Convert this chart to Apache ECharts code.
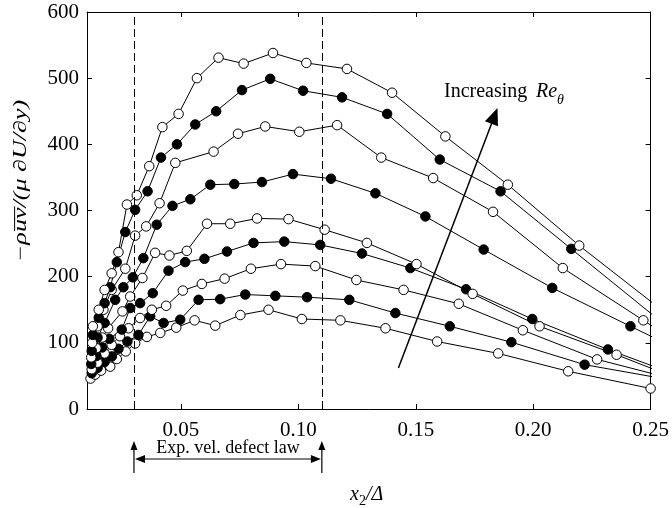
<!DOCTYPE html>
<html>
<head>
<meta charset="utf-8">
<script src="https://cdn.jsdelivr.net/npm/echarts@6/dist/echarts.min.js"></script>
<style>
  html, body { margin: 0; padding: 0; background: #fff; }
  #chart { width: 672px; height: 508px; }
</style>
</head>
<body>
<div id="chart"></div>
<script>
// Tick positions on the x2/Delta axis and the y axis
const xTicks = [0.05, 0.10, 0.15, 0.20, 0.25];
const yMin = 0, yMax = 600, yStep = 100;
// Bounds of the exponential velocity-defect region
const defectBounds = [0.03, 0.11];

// Profiles of -rho*uv / (mu dU/dy) against x2/Delta, lowest Re_theta first.
const profile1 = [[0.0115,46],[0.0135,52],[0.016,58],[0.0199,64],[0.0227,75.5],[0.0265,87],[0.0305,99],[0.0355,109],[0.0412,115],[0.048,123],[0.0558,134],[0.0646,126],[0.0753,142],[0.0873,150],[0.1015,136],[0.1179,134],[0.1371,122],[0.1591,102],[0.1851,84],[0.2149,57],[0.25,31]];
const profile2 = [[0.012,54],[0.0145,62],[0.0175,71],[0.0206,79.5],[0.0234,91],[0.0272,102],[0.0319,112],[0.0369,140],[0.0426,130],[0.0497,135],[0.0575,165],[0.0667,166],[0.0774,173],[0.0902,171],[0.1037,169],[0.1217,165],[0.1413,145],[0.1645,125],[0.1907,101],[0.2219,67],[0.26,43]];
const profile3 = [[0.012,60],[0.0145,70],[0.0175,84],[0.0205,97],[0.024,110],[0.0277,122],[0.0326,137.5],[0.0376,150],[0.0437,156],[0.0508,179],[0.0589,189],[0.0686,197],[0.0798,212],[0.0926,219],[0.1072,216],[0.1247,195],[0.1448,180],[0.1683,159],[0.1956,119],[0.2272,75],[0.26,45]];
const profile4 = [[0.0118,68],[0.014,80],[0.0165,93],[0.0195,106],[0.0248,120],[0.0284,152.6],[0.0326,160],[0.038,175],[0.0447,209],[0.0518,222],[0.06,227],[0.0696,238],[0.0809,251],[0.094,253],[0.1093,248],[0.1271,235],[0.1477,213],[0.1714,181],[0.1996,136],[0.2318,90],[0.26,53]];
const profile5 = [[0.0118,78],[0.014,92],[0.0165,108],[0.019,122],[0.0251,147.5],[0.0284,170],[0.0336,198],[0.039,236],[0.0451,232],[0.0525,239],[0.0611,280],[0.071,280],[0.0824,288],[0.0958,287],[0.1112,271],[0.1292,251],[0.1503,219],[0.1742,174],[0.2027,125],[0.2355,82],[0.26,48]];
const profile6 = [[0.012,88],[0.0145,108],[0.0175,130],[0.022,165],[0.0255,184],[0.0295,199],[0.034,228],[0.0397,278.5],[0.0464,307],[0.054,317],[0.0625,339],[0.0727,340],[0.0845,343],[0.0977,355],[0.1139,348],[0.1328,326],[0.1541,291],[0.1789,241],[0.2081,183],[0.2414,125],[0.26,93]];
const profile7 = [[0.0122,100],[0.0145,125],[0.017,150],[0.0205,180],[0.0263,212],[0.0305,262],[0.0352,276],[0.0409,311],[0.0476,372],[0.0639,389],[0.0743,416],[0.0859,427],[0.1004,419],[0.1165,429],[0.1353,380],[0.1574,349],[0.1829,298],[0.2126,213],[0.2469,134],[0.26,104]];
const profile8 = [[0.0125,112],[0.015,138],[0.0175,160],[0.0199,184],[0.0227,222],[0.0263,267.5],[0.0305,301],[0.0358,329],[0.0415,380],[0.0483,400],[0.0561,430],[0.065,450],[0.076,482],[0.088,499],[0.102,481],[0.1186,471],[0.1378,446],[0.1602,377],[0.1861,329],[0.2162,242],[0.26,116]];
const profile9 = [[0.0125,125],[0.015,150],[0.0175,180],[0.0205,205],[0.0234,237],[0.027,309],[0.0312,323],[0.0365,367],[0.0421,426],[0.049,446],[0.0568,500],[0.066,531],[0.0767,522],[0.0892,538],[0.1034,523],[0.1207,514],[0.1399,478],[0.1626,412],[0.1892,339],[0.2196,247],[0.26,135]];

// Open and filled markers alternate from one profile to the next
const profiles = [profile1, profile2, profile3, profile4, profile5, profile6, profile7, profile8, profile9];
const filledMarker = [false, true, false, true, false, true, false, true, false];

// Arrow showing the Re_theta trend, given in data units
const trendArrow = { from: [0.1426, 62], to: [0.1848, 455] };

const SERIF = '"Liberation Serif", "DejaVu Serif", serif';
const chart = echarts.init(document.getElementById('chart'), null, { renderer: 'canvas' });

const frameAxis = (extra) => Object.assign({
  type: 'value',
  axisLine: { show: true, onZero: false, lineStyle: { color: '#000', width: 1 } },
  splitLine: { show: false },
}, extra);

const series = profiles.map((data, i) => ({
  type: 'line',
  data: data,
  clip: true,
  symbol: 'circle',
  symbolSize: 9.5,
  showAllSymbol: true,
  lineStyle: { color: '#000', width: 1 },
  itemStyle: { color: filledMarker[i] ? '#000' : '#fff', borderColor: '#000', borderWidth: 1 },
  emphasis: { disabled: true },
  z: 3,
}));

series.push({
  type: 'line',
  data: [],
  markLine: {
    silent: true,
    symbol: ['none', 'none'],
    label: { show: false },
    lineStyle: { color: '#000', width: 1, type: [8, 4] },
    data: defectBounds.map(v => ({ xAxis: v })),
  },
  z: 2,
});

chart.setOption({
  animation: false,
  backgroundColor: '#fff',
  grid: { left: 87, right: 21, top: 12, bottom: 99 },
  xAxis: [
    frameAxis({
      min: 0.01, max: 0.25, position: 'bottom',
      axisTick: { show: true, inside: true, length: 5, customValues: xTicks, lineStyle: { color: '#000' } },
      axisLabel: { show: true, customValues: xTicks, formatter: v => v.toFixed(2),
        fontFamily: SERIF, fontSize: 21, color: '#000', margin: 11 },
    }),
    frameAxis({
      min: 0.01, max: 0.25, position: 'top',
      axisTick: { show: true, inside: true, length: 5, customValues: xTicks, lineStyle: { color: '#000' } },
      axisLabel: { show: false },
    }),
  ],
  yAxis: [
    frameAxis({
      min: yMin, max: yMax, interval: yStep, position: 'left',
      axisTick: { show: true, inside: true, length: 5, lineStyle: { color: '#000' } },
      axisLabel: { show: true, fontFamily: SERIF, fontSize: 21, color: '#000', margin: 8 },
    }),
    frameAxis({
      min: yMin, max: yMax, interval: yStep, position: 'right',
      axisTick: { show: true, inside: true, length: 5, lineStyle: { color: '#000' } },
      axisLabel: { show: false },
    }),
  ],
  series: series,
});

// Annotations placed through the axis scales
const px = (x, y) => chart.convertToPixel({ gridIndex: 0 }, [x, y]);
const bL = px(defectBounds[0], 0)[0];
const bR = px(defectBounds[1], 0)[0];
const lawY = 459;
const black = { fill: '#000' };

function arrowHead(tip, dirX, dirY, len, half) {
  const bx = tip[0] - dirX * len, by = tip[1] - dirY * len;
  const nx = -dirY, ny = dirX;
  return { type: 'polygon', shape: { points: [tip, [bx + nx * half, by + ny * half], [bx - nx * half, by - ny * half]] }, style: black, silent: true };
}

const a0 = px(trendArrow.from[0], trendArrow.from[1]);
const a1 = px(trendArrow.to[0], trendArrow.to[1]);
const dx = a1[0] - a0[0], dy = a1[1] - a0[1], dl = Math.hypot(dx, dy);
const ux = dx / dl, uy = dy / dl;

chart.setOption({
  graphic: [
    // region bracket under the axis
    { type: 'line', shape: { x1: bL, y1: 446, x2: bL, y2: 473 }, style: { stroke: '#000', lineWidth: 1.2 }, silent: true },
    { type: 'line', shape: { x1: bR, y1: 446, x2: bR, y2: 473 }, style: { stroke: '#000', lineWidth: 1.2 }, silent: true },
    arrowHead([bL, 441], 0, -1, 9, 3.5),
    arrowHead([bR, 441], 0, -1, 9, 3.5),
    { type: 'line', shape: { x1: bL + 6, y1: lawY, x2: bR - 6, y2: lawY }, style: { stroke: '#000', lineWidth: 1.2 }, silent: true },
    arrowHead([bL + 1, lawY], -1, 0, 10, 4),
    arrowHead([bR - 1, lawY], 1, 0, 10, 4),
    { type: 'text', x: (bL + bR) / 2, y: 457, silent: true,
      style: { text: 'Exp. vel. defect law', font: '18px ' + SERIF, fill: '#000', align: 'center', verticalAlign: 'bottom' } },

    // trend arrow
    { type: 'line', shape: { x1: a0[0], y1: a0[1], x2: a1[0] - ux * 12, y2: a1[1] - uy * 12 }, style: { stroke: '#000', lineWidth: 1.5 }, silent: true },
    arrowHead(a1, ux, uy, 17, 7),
    { type: 'text', x: 444, y: 102, silent: true,
      style: { text: 'Increasing ', font: '20px ' + SERIF, fill: '#000', align: 'left', verticalAlign: 'bottom' } },
    { type: 'text', x: 536, y: 102, silent: true,
      style: { text: 'Re', font: 'italic 20px ' + SERIF, fill: '#000', align: 'left', verticalAlign: 'bottom' } },
    { type: 'text', x: 557, y: 107, silent: true,
      style: { text: 'θ', font: 'italic 14px ' + SERIF, fill: '#000', align: 'left', verticalAlign: 'bottom' } },

    // axis titles
    { type: 'text', x: 350, y: 505, silent: true,
      style: { text: 'x', font: 'italic 20px ' + SERIF, fill: '#000', align: 'left', verticalAlign: 'bottom' } },
    { type: 'text', x: 359, y: 508, silent: true,
      style: { text: '2', font: '14px ' + SERIF, fill: '#000', align: 'left', verticalAlign: 'bottom' } },
    { type: 'text', x: 366, y: 505, silent: true,
      style: { text: '/Δ', font: 'italic 20px ' + SERIF, fill: '#000', align: 'left', verticalAlign: 'bottom' } },
    { type: 'text', x: 21, y: 181, rotation: Math.PI / 2, scaleX: 1.45, silent: true,
      style: { text: '−ρu\u0305v\u0305/(μ ∂U/∂y)', font: 'italic 18px ' + SERIF, fill: '#000', align: 'center', verticalAlign: 'middle' } },
  ],
});
</script>
</body>
</html>
